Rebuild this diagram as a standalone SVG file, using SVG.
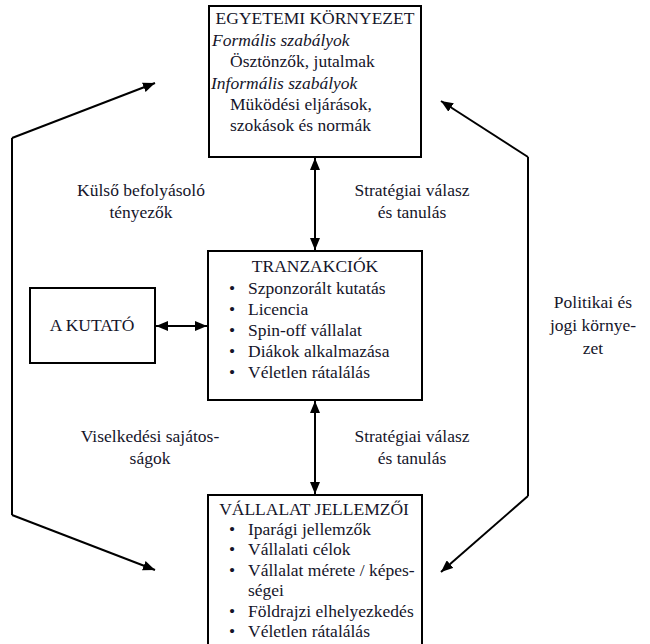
<svg xmlns="http://www.w3.org/2000/svg" width="650" height="644" viewBox="0 0 650 644">
  <defs>
    <marker id="ah" viewBox="0 0 12 10" refX="12" refY="5" markerWidth="12" markerHeight="10" markerUnits="userSpaceOnUse" orient="auto-start-reverse">
      <path d="M0,0 L12,5 L0,10 Z" fill="#000"/>
    </marker>
  </defs>
  <style>
    .box { fill: #fff; stroke: #000; stroke-width: 2; }
    .t { font-family: "Liberation Serif", "Times New Roman", serif; font-size: 17.5px; fill: #15152a; }
    .c { text-anchor: middle; }
    .i { font-style: italic; }
    .ln { fill: none; stroke: #000; stroke-width: 2; }
  </style>
  <rect width="650" height="644" fill="#fff"/>

  <g id="connectors">
    <line class="ln" x1="315" y1="158" x2="315" y2="250" marker-start="url(#ah)" marker-end="url(#ah)"/>
    <line class="ln" x1="315" y1="401" x2="315" y2="494" marker-start="url(#ah)" marker-end="url(#ah)"/>
    <line class="ln" x1="156" y1="326" x2="207" y2="326" marker-start="url(#ah)" marker-end="url(#ah)"/>
    <polyline class="ln" points="12,138 12,515" />
    <line class="ln" x1="12" y1="138" x2="155" y2="83" marker-end="url(#ah)"/>
    <line class="ln" x1="12" y1="515" x2="155" y2="570" marker-end="url(#ah)"/>
    <polyline class="ln" points="528,157 528,496"/>
    <line class="ln" x1="528" y1="157" x2="441" y2="101" marker-end="url(#ah)"/>
    <line class="ln" x1="528" y1="496" x2="441" y2="572" marker-end="url(#ah)"/>
  </g>

  <g id="egyetemi">
    <rect class="box" x="209" y="6" width="212" height="151"/>
    <text class="t c" x="315" y="24">EGYETEMI KÖRNYEZET</text>
    <text class="t i" x="212" y="46">Formális szabályok</text>
    <text class="t" x="230" y="67">Ösztönzők, jutalmak</text>
    <text class="t i" x="211" y="89">Informális szabályok</text>
    <text class="t" x="230" y="110">Müködési eljárások,</text>
    <text class="t" x="230" y="131">szokások és normák</text>
  </g>

  <g id="tranzakciok">
    <rect class="box" x="208" y="251" width="214" height="149"/>
    <text class="t c" x="315" y="272">TRANZAKCIÓK</text>
    <g class="t">
      <text x="229" y="294">•</text><text x="248" y="294">Szponzorált kutatás</text>
      <text x="229" y="315">•</text><text x="248" y="315">Licencia</text>
      <text x="229" y="336">•</text><text x="248" y="336">Spin-off vállalat</text>
      <text x="229" y="357">•</text><text x="248" y="357">Diákok alkalmazása</text>
      <text x="229" y="378">•</text><text x="248" y="378">Véletlen rátalálás</text>
    </g>
  </g>

  <g id="kutato">
    <rect class="box" x="30" y="288" width="125" height="75"/>
    <text class="t c" x="92" y="331">A KUTATÓ</text>
  </g>

  <g id="vallalat">
    <rect class="box" x="208" y="495" width="214" height="160"/>
    <text class="t c" x="314" y="515">VÁLLALAT JELLEMZŐI</text>
    <g class="t">
      <text x="229" y="535">•</text><text x="248" y="535">Iparági jellemzők</text>
      <text x="229" y="555">•</text><text x="248" y="555">Vállalati célok</text>
      <text x="229" y="576">•</text><text x="248" y="576">Vállalat mérete / képes-</text>
      <text x="248" y="596">ségei</text>
      <text x="229" y="617">•</text><text x="248" y="617">Földrajzi elhelyezkedés</text>
      <text x="229" y="637">•</text><text x="248" y="637">Véletlen rátalálás</text>
    </g>
  </g>

  <g id="labels">
    <text class="t c" x="141" y="196">Külső befolyásoló</text>
    <text class="t c" x="141" y="218">tényezők</text>
    <text class="t c" x="412" y="196">Stratégiai válasz</text>
    <text class="t c" x="412" y="218">és tanulás</text>
    <text class="t c" x="150" y="442">Viselkedési sajátos-</text>
    <text class="t c" x="150" y="464">ságok</text>
    <text class="t c" x="412" y="442">Stratégiai válasz</text>
    <text class="t c" x="412" y="464">és tanulás</text>
    <text class="t c" x="593" y="308">Politikai és</text>
    <text class="t c" x="593" y="331">jogi környe-</text>
    <text class="t c" x="593" y="354">zet</text>
  </g>
</svg>
